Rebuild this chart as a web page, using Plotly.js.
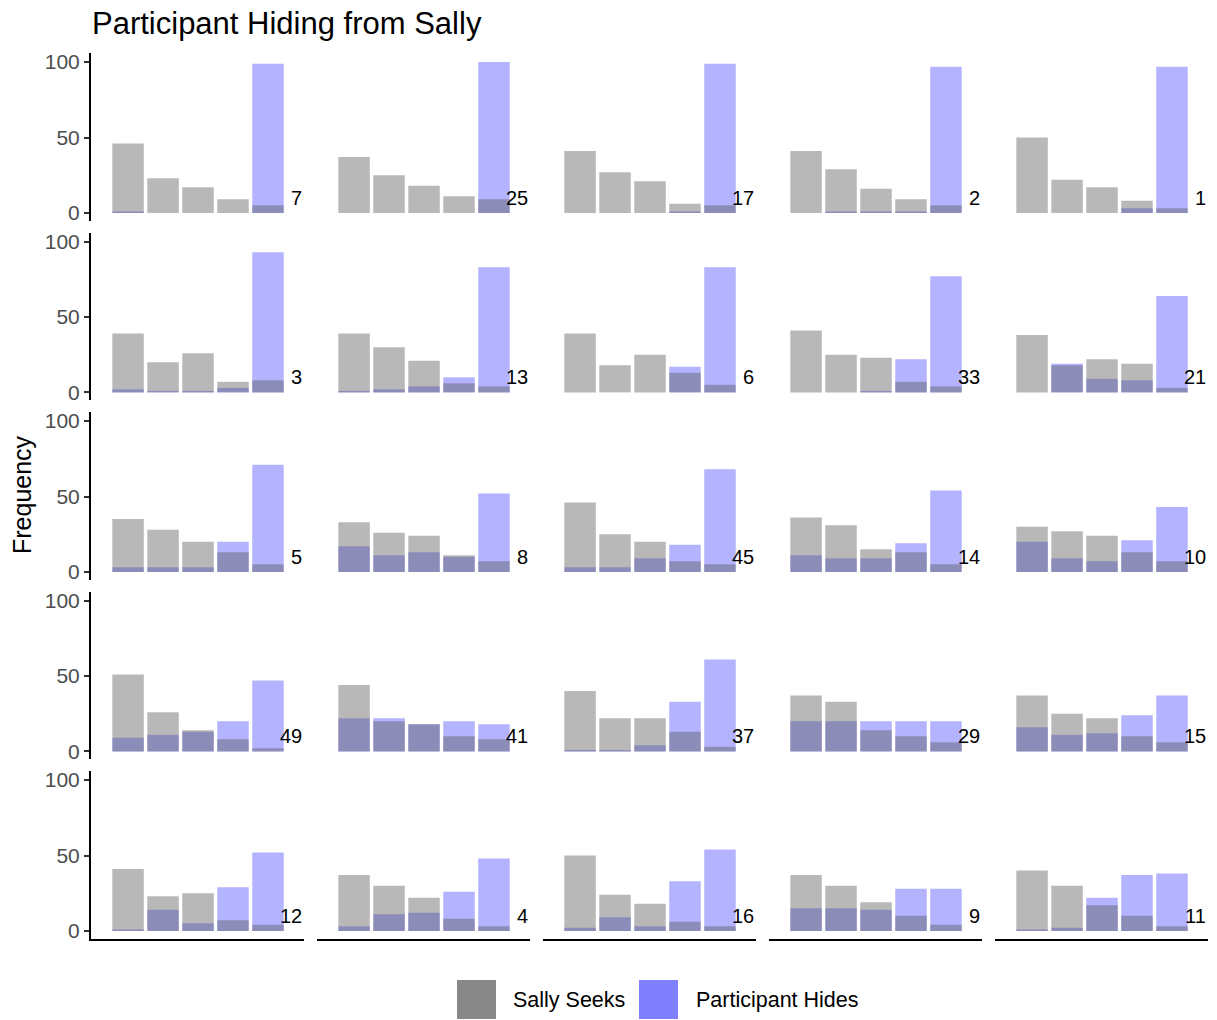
<!DOCTYPE html>
<html>
<head>
<meta charset="utf-8">
<script src="https://cdn.plot.ly/plotly-3.0.1.min.js"></script>
<style>html,body{margin:0;padding:0;background:#fff}#chart{width:1217px;height:1020px}</style>
</head>
<body>
<div id="chart"></div>
<script>
// ---- data ----
const categories = [1, 2, 3, 4, 5];
const facetLabels = ["7","25","17","2","1","3","13","6","33","21","5","8","45","14","10","49","41","37","29","15","12","4","16","9","11"];
const sallySeeks = [
  [46,23,17,9,5],[37,25,18,11,9],[41,27,21,6,5],[41,29,16,9,5],[50,22,17,8,3],
  [39,20,26,7,8],[39,30,21,6,4],[39,18,25,13,5],[41,25,23,7,4],[38,18,22,19,3],
  [35,28,20,13,5],[33,26,24,11,7],[46,25,20,7,5],[36,31,15,13,5],[30,27,24,13,7],
  [51,26,14,8,2],[44,20,18,10,8],[40,22,22,13,3],[37,33,14,10,6],[37,25,22,10,6],
  [41,23,25,7,4],[37,30,22,8,3],[50,24,18,6,3],[37,30,19,10,4],[40,30,17,10,3]
];
const participantHides = [
  [1,0,0,0,99],[0,0,0,0,100],[0,0,0,1,99],[0,1,1,1,97],[0,0,0,3,97],
  [2,1,1,3,93],[1,2,4,10,83],[0,0,0,17,83],[0,0,1,22,77],[0,19,9,8,64],
  [3,3,3,20,71],[17,11,13,10,52],[3,3,9,18,68],[11,9,9,19,54],[20,9,7,21,43],
  [9,11,13,20,47],[22,22,18,20,18],[1,1,4,33,61],[20,20,20,20,20],[16,11,12,24,37],
  [1,14,5,29,52],[3,11,12,26,48],[2,9,3,33,54],[15,15,14,28,28],[1,2,22,37,38]
];
const seriesNames = ["Sally Seeks", "Participant Hides"];
const seriesColors = ["#888888", "#8080ff"];          // legend key colours
const barColors = ["rgba(86,86,86,0.42)", "rgba(128,128,255,0.6)"]; // translucent bar fills
const yTicks = [0, 50, 100];

// ---- layout geometry ----
const W = 1217, H = 1020;
const nCols = 5, nRows = 5;
const colLeft0 = 91, colWidth = 213, colPitch = 226;
const rowTop0 = 53, rowHeight = 167.5, rowPitch = 179.5;
const xRange = [-0.06, 6.03];
const yRange = [-5.05, 106.05];
const FONT = "Liberation Sans, Arial, Helvetica, sans-serif";

const traces = [];
const layout = {
  width: W, height: H,
  margin: {l: 0, r: 0, t: 0, b: 0, pad: 0},
  paper_bgcolor: "#ffffff", plot_bgcolor: "rgba(0,0,0,0)",
  barmode: "overlay",
  showlegend: false,
  font: {family: FONT, color: "#000"},
  title: {text: "Participant Hiding from Sally", x: 92 / W, xanchor: "left", xref: "paper",
          y: 1 - 23 / H, yref: "container", yanchor: "middle", font: {size: 31, color: "#000", family: FONT}},
  annotations: [],
  shapes: []
};

for (let i = 0; i < facetLabels.length; i++) {
  const r = Math.floor(i / nCols), c = i % nCols;
  const n = i + 1;
  const xa = n === 1 ? "x" : "x" + n;
  const ya = n === 1 ? "y" : "y" + n;
  const xKey = n === 1 ? "xaxis" : "xaxis" + n;
  const yKey = n === 1 ? "yaxis" : "yaxis" + n;
  const x0 = (colLeft0 + c * colPitch) / W, x1 = (colLeft0 + c * colPitch + colWidth) / W;
  const top = rowTop0 + r * rowPitch, bot = top + rowHeight;
  layout[xKey] = {
    domain: [x0, x1], range: xRange, anchor: ya,
    showticklabels: false, ticks: "", showgrid: false, zeroline: false,
    showline: r === nRows - 1, linecolor: "#000", linewidth: 2, fixedrange: true
  };
  layout[yKey] = {
    domain: [1 - bot / H, 1 - top / H], range: yRange, anchor: xa,
    tickvals: yTicks, ticktext: yTicks.map(String),
    ticks: c === 0 ? "outside" : "", ticklen: 5, tickwidth: 2, tickcolor: "#333",
    showticklabels: c === 0, tickfont: {size: 21, color: "#4d4d4d", family: FONT},
    showgrid: false, zeroline: false,
    showline: c === 0, linecolor: "#000", linewidth: 2, fixedrange: true
  };
  // Participant Hides first, Sally Seeks on top
  traces.push({
    type: "bar", x: categories, y: participantHides[i], xaxis: xa, yaxis: ya,
    width: 0.9, name: seriesNames[1], showlegend: false, hoverinfo: "skip",
    marker: {color: barColors[1], line: {width: 0}}
  });
  traces.push({
    type: "bar", x: categories, y: sallySeeks[i], xaxis: xa, yaxis: ya,
    width: 0.9, name: seriesNames[0], showlegend: false, hoverinfo: "skip",
    marker: {color: barColors[0], line: {width: 0}}
  });
  layout.annotations.push({
    text: facetLabels[i], xref: xa, yref: ya, x: xRange[1], y: 10,
    xanchor: "right", yanchor: "middle", showarrow: false,
    font: {size: 20, color: "#000", family: FONT}
  });
}

// y-axis title
layout.annotations.push({
  text: "Frequency", xref: "paper", yref: "paper", x: 22 / W, y: 1 - 495 / H,
  xanchor: "center", yanchor: "middle", textangle: -90, showarrow: false,
  font: {size: 25, color: "#000", family: FONT}
});

// legend (drawn manually to get large keys)
const legendKeys = [{x: 457, tx: 511}, {x: 639, tx: 694}];
legendKeys.forEach((k, j) => {
  layout.shapes.push({
    type: "rect", xref: "paper", yref: "paper",
    x0: k.x / W, x1: (k.x + 39) / W, y0: 1 - 1019 / H, y1: 1 - 980 / H,
    fillcolor: seriesColors[j], line: {width: 0}
  });
  layout.annotations.push({
    text: seriesNames[j], xref: "paper", yref: "paper", x: k.tx / W, y: 1 - 1000 / H,
    xanchor: "left", yanchor: "middle", showarrow: false,
    font: {size: 21.5, color: "#000", family: FONT}
  });
});

Plotly.newPlot("chart", traces, layout, {displayModeBar: false, staticPlot: true});
</script>
</body>
</html>
